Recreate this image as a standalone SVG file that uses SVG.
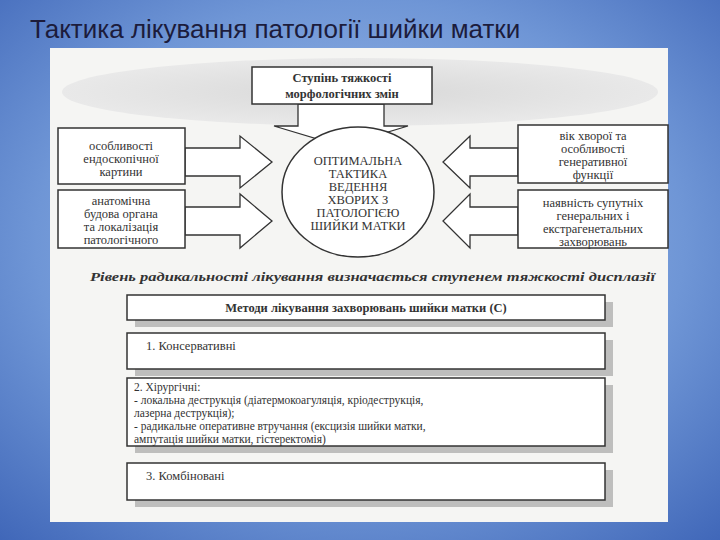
<svg xmlns="http://www.w3.org/2000/svg" width="720" height="540" viewBox="0 0 720 540">
<defs>
<radialGradient id="bg" cx="0.5" cy="0.45" r="0.75"><stop offset="0" stop-color="#a9c4ec"/><stop offset="0.6" stop-color="#6f96d6"/><stop offset="1" stop-color="#3f66b8"/></radialGradient>
<radialGradient id="ell" cx="0.5" cy="0.5" r="0.5"><stop offset="0" stop-color="#d8d8d8"/><stop offset="1" stop-color="#e9e9e9"/></radialGradient>
</defs>
<style>
.b{fill:#fff;stroke:#333;stroke-width:1.5}
.ar{fill:#fff;stroke:#333;stroke-width:1.3}
.sh{fill:#9a9a9a;opacity:.6}
.t{font-family:"Liberation Serif",serif;font-size:12.5px;fill:#333;text-anchor:middle}
.l{font-family:"Liberation Serif",serif;font-size:12.5px;fill:#333}
.s{font-size:11.5px}
</style>
<rect width="720" height="540" fill="url(#bg)"/>
<text x="30" y="38" font-family="Liberation Sans,sans-serif" font-size="26" fill="#1c1c3c">Тактика лікування патології шийки матки</text>
<rect x="50" y="48" width="618" height="474" fill="#f5f5f3"/>
<ellipse cx="360" cy="92" rx="298" ry="34" fill="url(#ell)"/>
<g id="connectors">
<path class="ar" d="M298,104 L384,104 L384,126 L408,126 L341,146 L274,126 L298,126 Z"/>
<path class="ar" d="M185,148 L240,148 L240,136 L272,162 L240,188 L240,176 L185,176 Z"/>
<path class="ar" d="M185,207 L240,207 L240,194 L272,221 L240,248 L240,235 L185,235 Z"/>
<path class="ar" d="M518,148 L470,148 L470,136 L443,162 L470,188 L470,176 L518,176 Z"/>
<path class="ar" d="M518,207 L470,207 L470,194 L443,221 L470,248 L470,235 L518,235 Z"/>
</g>
<g id="top"><rect class="b" x="252" y="67" width="180" height="37"/>
<text class="t" x="342" y="82" font-weight="bold">Ступінь тяжкості</text><text class="t" x="342" y="98" font-weight="bold">морфологічних змін</text></g>
<g id="center"><ellipse class="b" cx="358" cy="192" rx="76" ry="65"/>
<g class="t" font-size="13.5"><text x="358" y="165">ОПТИМАЛЬНА</text><text x="358" y="178">ТАКТИКА</text><text x="358" y="191">ВЕДЕННЯ</text><text x="358" y="204">ХВОРИХ З</text><text x="358" y="217">ПАТОЛОГІЄЮ</text><text x="358" y="230">ШИЙКИ МАТКИ</text></g></g>
<g id="l1"><rect class="b" x="58" y="128" width="127" height="56"/><text class="t" x="121" y="150">особливості</text><text class="t" x="121" y="163">ендоскопічної</text><text class="t" x="121" y="176">картини</text></g>
<g id="l2"><rect class="b" x="58" y="190" width="127" height="58"/><text class="t" x="121" y="205">анатомічна</text><text class="t" x="121" y="218">будова органа</text><text class="t" x="121" y="231">та локалізація</text><text class="t" x="121" y="244">патологічного</text></g>
<g id="r1"><rect class="b" x="518" y="125" width="150" height="58"/><text class="t" x="593" y="140">вік хворої та</text><text class="t" x="593" y="153">особливості</text><text class="t" x="593" y="166">генеративної</text><text class="t" x="593" y="179">функції</text></g>
<g id="r2"><rect class="b" x="518" y="190" width="150" height="58"/><text class="t" x="593" y="207">наявність супутніх</text><text class="t" x="593" y="220">генеральних і</text><text class="t" x="593" y="233">екстрагенетальних</text><text class="t" x="593" y="246">захворювань</text></g>
<text x="90" y="281" font-family="Liberation Serif,serif" font-size="13.5" font-style="italic" font-weight="bold" fill="#333" textLength="565" lengthAdjust="spacingAndGlyphs">Рівень радикальності лікування визначається ступенем тяжкості дисплазії</text>
<g id="m0"><rect class="sh" x="135" y="302" width="478" height="25"/><rect class="b" x="127" y="295" width="478" height="25"/><text class="t" x="366" y="312" font-weight="bold">Методи лікування захворювань шийки матки (С)</text></g>
<g id="m1"><rect class="sh" x="135" y="340" width="478" height="36"/><rect class="b" x="127" y="333" width="478" height="36"/><text class="l" x="146" y="350">1. Консервативні</text></g>
<g id="m2"><rect class="sh" x="135" y="385" width="478" height="68"/><rect class="b" x="127" y="378" width="478" height="68"/>
<text class="l s" x="134" y="391">2. Хірургічні:</text><text class="l s" x="134" y="404">- локальна деструкція (діатермокоагуляція, кріодеструкція,</text><text class="l s" x="134" y="417">лазерна деструкція);</text><text class="l s" x="134" y="430">- радикальне оперативне втручання (ексцизія шийки матки,</text><text class="l s" x="134" y="443">ампутація шийки матки, гістеректомія)</text></g>
<g id="m3"><rect class="sh" x="135" y="470" width="478" height="37"/><rect class="b" x="127" y="463" width="478" height="37"/><text class="l" x="146" y="480">3. Комбіновані</text></g>
</svg>
